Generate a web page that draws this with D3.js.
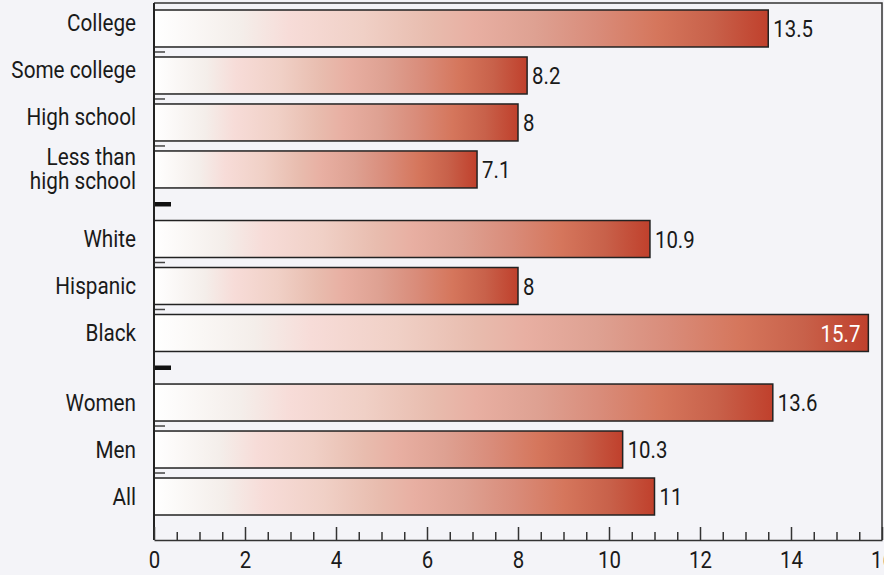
<!DOCTYPE html>
<html>
<head>
<meta charset="utf-8">
<script src="https://cdn.jsdelivr.net/npm/d3@7"></script>
<style>
  html, body { margin: 0; padding: 0; background: #f4f4f8; }
  svg text { font-family: "Roboto", sans-serif; fill: #1a1a1a; }
</style>
</head>
<body>
<div id="chart"></div>
<script>
// data
const categories = ["College", "Some college", "High school", "Less than high school",
                    "White", "Hispanic", "Black",
                    "Women", "Men", "All"];
const values = [13.5, 8.2, 8, 7.1, 10.9, 8, 15.7, 13.6, 10.3, 11];
const groups = [0, 0, 0, 0, 1, 1, 1, 2, 2, 2];
const xTicks = [0, 2, 4, 6, 8, 10, 12, 14, 16];

(function bar_chart(){
  const width = 884, height = 575;
  const margin = {top: 3, right: 2, bottom: 35, left: 154};
  const gap = 0.48;          // extra space between groups, in bar slots
  const pad = 5;             // space above / below each bar
  const squeeze = 0.88;      // no condensed font installed, narrow Roboto a bit

  const svg = d3.select("#chart")
    .append("svg")
      .attr("width", width)
      .attr("height", height);

  const data = categories.map((c, i) => ({
    name: c, value: values[i], group: groups[i],
    slot: i + groups[i] * gap
  }));

  const x = d3.scaleLinear()
    .domain([0, 16])
    .range([margin.left, width - margin.right]);

  const nSlots = categories.length + gap * (d3.max(groups));
  const y = d3.scaleLinear()
    .domain([0, nSlots])
    .range([margin.top + 2, height - margin.bottom - 20]);
  const step = y(1) - y(0);

  // gradient, white -> red along each bar
  const grad = svg.append("defs").append("linearGradient")
    .attr("id", "barGrad")
    .attr("x1", "0%").attr("x2", "100%")
    .attr("y1", "0%").attr("y2", "0%");
  const stops = [
    [0, "#ffffff"], [0.14, "#f4eeea"], [0.22, "#f7dcd8"], [0.34, "#f0d0c6"],
    [0.45, "#e8bcae"], [0.52, "#e8afa2"], [0.62, "#dea192"], [0.72, "#d98c7a"],
    [0.82, "#d5765c"], [0.91, "#c8614a"], [1, "#c0402c"]
  ];
  grad.selectAll("stop")
    .data(stops)
    .join("stop")
      .attr("offset", d => d[0])
      .attr("stop-color", d => d[1]);

  const axisY = height - margin.bottom;

  // frame
  svg.append("path")
    .attr("d", `M${x(0)},${margin.top}H${x(16)}V${axisY}`)
    .attr("fill", "none")
    .attr("stroke", "#333")
    .attr("stroke-width", 1.5);

  // bars
  svg.selectAll(".bar")
    .data(data)
    .join("rect")
      .attr("class", "bar")
      .attr("x", x(0))
      .attr("y", d => y(d.slot) + pad)
      .attr("width", d => x(d.value) - x(0))
      .attr("height", step - 2 * pad)
      .attr("fill", "url(#barGrad)")
      .attr("stroke", "#222")
      .attr("stroke-width", 1.5);

  // value labels
  const inside = d => d.value > 15;
  svg.selectAll(".val")
    .data(data)
    .join("g")
      .attr("class", "val")
      .attr("transform", d => `translate(${inside(d) ? x(d.value) - 8 : x(d.value) + 5}, ${y(d.slot) + step / 2}) scale(0.85,1)`)
    .append("text")
      .attr("dy", "0.36em")
      .attr("text-anchor", d => inside(d) ? "end" : "start")
      .style("font-size", "24px")
      .style("fill", d => inside(d) ? "#ffffff" : "#1a1a1a")
      .text(d => d.value);

  // category labels
  const lab = svg.selectAll(".lab")
    .data(data)
    .join("g")
      .attr("class", "lab")
      .attr("transform", d => `translate(${margin.left - 18}, ${y(d.slot) + step / 2 + (d.group === 0 ? -6 : 0)}) scale(${squeeze + 0.02},1)`)
    .append("text")
      .attr("text-anchor", "end")
      .style("font-size", "23px");
  lab.each(function(d) {
    const t = d3.select(this);
    if (d.name === "Less than high school") {
      t.attr("y", 6);
      t.append("tspan").attr("x", 0).attr("dy", "-4px").text("Less than");
      t.append("tspan").attr("x", 0).attr("dy", "24px").text("high school");
    } else {
      t.attr("dy", "0.36em").text(d.name);
    }
  });

  // small ticks between bars of a group
  const inner = data.filter((d, i) => i > 0 && groups[i - 1] === d.group);
  svg.selectAll(".ytick")
    .data(inner)
    .join("line")
      .attr("class", "ytick")
      .attr("x1", x(0)).attr("x2", x(0) + 11)
      .attr("y1", d => y(d.slot)).attr("y2", d => y(d.slot))
      .attr("stroke", "#444")
      .attr("stroke-width", 1.5);

  // heavy dashes between groups
  const seps = data.filter((d, i) => i > 0 && groups[i - 1] !== d.group);
  svg.selectAll(".ysep")
    .data(seps)
    .join("line")
      .attr("class", "ysep")
      .attr("x1", x(0)).attr("x2", x(0) + 17)
      .attr("y1", d => y(d.slot - gap / 2)).attr("y2", d => y(d.slot - gap / 2))
      .attr("stroke", "#111")
      .attr("stroke-width", 4.5);

  // left axis line
  svg.append("line")
    .attr("x1", x(0)).attr("x2", x(0))
    .attr("y1", margin.top).attr("y2", axisY)
    .attr("stroke", "#222")
    .attr("stroke-width", 2);

  // x axis, ticks pointing up
  const gx = svg.append("g")
    .attr("transform", `translate(0, ${axisY})`);
  gx.call(d3.axisBottom(x)
      .tickValues(d3.range(0, 16.01, 0.5).filter(v => v % 2 !== 0))
      .tickSizeInner(-8).tickSizeOuter(0)
      .tickFormat(""))
    .call(g => g.select(".domain").remove())
    .selectAll("line").attr("stroke", "#333").attr("stroke-width", 1.5);
  const gx2 = svg.append("g")
    .attr("transform", `translate(0, ${axisY})`);
  gx2.call(d3.axisBottom(x)
      .tickValues(xTicks)
      .tickSizeInner(-13).tickSizeOuter(0)
      .tickPadding(11))
    .call(g => g.select(".domain").attr("stroke", "#333").attr("stroke-width", 1.5))
    .call(g => g.selectAll("line").attr("stroke", "#333").attr("stroke-width", 1.5))
    .call(g => g.selectAll("text")
      .style("font-size", "24px")
      .style("font-family", null)
      .attr("transform", "scale(0.85,1)")
      .attr("fill", "#1a1a1a"));
})();
</script>
</body>
</html>
